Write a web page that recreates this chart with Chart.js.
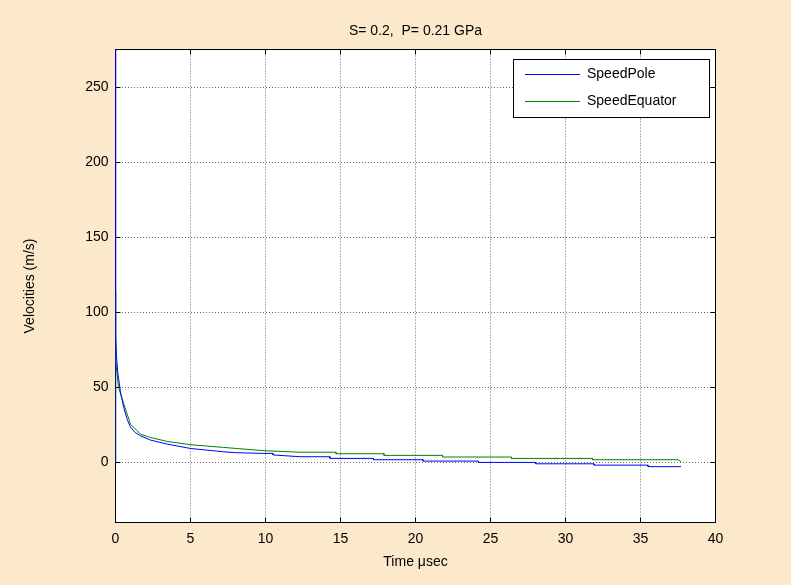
<!DOCTYPE html>
<html>
<head>
<meta charset="utf-8">
<script src="https://cdn.jsdelivr.net/npm/chart.js@4.4.1/dist/chart.umd.min.js"></script>
<style>
  html, body { margin: 0; padding: 0; background: #fce9cb; }
  canvas { display: block; }
</style>
</head>
<body>
<canvas id="grafico" width="791" height="585"></canvas>
<script>
// valores
const chartTitle = "S= 0.2,  P= 0.21 GPa";
const xTicks = [0, 5, 10, 15, 20, 25, 30, 35, 40];
const yTicks = [0, 50, 100, 150, 200, 250];

const poleTime = [0, 0, 0.02, 0.07, 0.15, 0.22, 0.33, 0.55, 0.8, 1.0, 1.3, 1.67, 2.33, 3.44, 5, 6, 7.2, 8, 9.9, 10.5, 10.5, 12.3, 14.3, 14.3, 17.2, 17.2, 20.5, 20.5, 24.2, 24.2, 28, 28, 31.9, 31.9, 35.5, 35.5, 37.7];
const poleSpeed = [0, 275, 84, 70, 60, 55, 47, 36.5, 28, 23.5, 20, 17.7, 14.9, 12.2, 9.3, 8.3, 7.1, 6.5, 6.0, 6.0, 5.0, 3.8, 3.8, 2.7, 2.7, 1.8, 1.8, 0.9, 0.9, 0, 0, -0.9, -0.9, -1.8, -1.8, -2.8, -2.8];

const equatorTime = [0, 0, 0.02, 0.2, 0.55, 1.0, 1.67, 2.33, 3.44, 5, 7.2, 9.9, 12.3, 14.7, 14.7, 17.9, 17.9, 21.8, 21.8, 26.4, 26.4, 31.8, 31.8, 37.5, 37.7];
const equatorSpeed = [0, 114, 68, 50, 39, 25.5, 18.8, 16.6, 14, 11.8, 10, 7.8, 6.8, 6.8, 5.8, 5.8, 4.7, 4.7, 3.6, 3.6, 2.7, 2.7, 1.8, 1.8, 0.5];

const fonte = "Liberation Sans, Arial, sans-serif";

function pontos(xs, ys) {
    return xs.map((x, i) => ({ x: x, y: ys[i] }));
}

const fundoPlugin = {
    id: "fundoPlugin",
    beforeDraw(chart) {
        const { ctx, chartArea: a } = chart;
        ctx.save();
        ctx.fillStyle = "#fff";
        ctx.fillRect(a.left, a.top, a.right - a.left, a.bottom - a.top);
        ctx.restore();
    },
    beforeDatasetsDraw(chart) {
        const { ctx, chartArea: a, scales } = chart;
        ctx.save();
        // caixa e marcas internas
        ctx.strokeStyle = "#000";
        ctx.lineWidth = 1;
        ctx.strokeRect(a.left, a.top, a.right - a.left, a.bottom - a.top);
        ctx.beginPath();
        xTicks.forEach(t => {
            const px = scales.x.getPixelForValue(t);
            ctx.moveTo(px, a.bottom); ctx.lineTo(px, a.bottom - 5);
            ctx.moveTo(px, a.top); ctx.lineTo(px, a.top + 5);
        });
        yTicks.forEach(t => {
            const py = Math.round(scales.y.getPixelForValue(t)) + 0.5;
            ctx.moveTo(a.left, py); ctx.lineTo(a.left + 5, py);
            ctx.moveTo(a.right, py); ctx.lineTo(a.right - 5, py);
        });
        ctx.stroke();
        ctx.restore();
    }
};

const legendaPlugin = {
    id: "legendaPlugin",
    afterDraw(chart) {
        const { ctx, chartArea: a } = chart;
        ctx.save();

        // título
        ctx.fillStyle = "#000";
        ctx.font = "14px " + fonte;
        ctx.textAlign = "center";
        ctx.textBaseline = "middle";
        ctx.fillText(chartTitle, (a.left + a.right) / 2, 31);

        // legenda
        const lx = 513, ly = 59, lw = 196, lh = 58;
        ctx.fillStyle = "#fff";
        ctx.fillRect(lx, ly, lw, lh);
        ctx.strokeStyle = "#000";
        ctx.lineWidth = 1;
        ctx.strokeRect(lx + 0.5, ly + 0.5, lw, lh);
        ctx.textAlign = "left";
        chart.data.datasets.forEach((ds, i) => {
            const y = ly + 15 + i * 27;
            ctx.strokeStyle = ds.borderColor;
            ctx.beginPath();
            ctx.moveTo(525, Math.round(y) + 0.5);
            ctx.lineTo(580, Math.round(y) + 0.5);
            ctx.stroke();
            ctx.fillStyle = "#000";
            ctx.fillText(ds.label, 587, y);
        });
        ctx.restore();
    }
};

new Chart(document.getElementById("grafico"), {
    type: "line",
    data: {
        datasets: [
            {
                label: "SpeedPole",
                data: pontos(poleTime, poleSpeed),
                borderColor: "#0000ff",
                borderWidth: 1,
                pointRadius: 0,
                tension: 0
            },
            {
                label: "SpeedEquator",
                data: pontos(equatorTime, equatorSpeed),
                borderColor: "#008000",
                borderWidth: 1,
                pointRadius: 0,
                tension: 0
            }
        ]
    },
    options: {
        responsive: false,
        animation: false,
        layout: { padding: { top: 49.5, right: 75.5, left: 0, bottom: 0 } },
        plugins: {
            legend: { display: false },
            tooltip: { enabled: false },
            title: { display: false }
        },
        scales: {
            x: {
                type: "linear",
                min: 0,
                max: 40,
                afterBuildTicks(scale) { scale.ticks = xTicks.map(v => ({ value: v })); },
                afterFit(scale) { scale.height = 62.5; },
                border: { display: false, dash: [1, 2] },
                grid: { color: "#666", drawTicks: false },
                ticks: { color: "#000", padding: 8, maxRotation: 0, font: { family: fonte, size: 14 } },
                title: {
                    display: true,
                    text: "Time \u03bcsec",
                    color: "#000",
                    font: { family: fonte, size: 14 },
                    padding: { top: 0, bottom: 14 }
                }
            },
            y: {
                type: "linear",
                min: -40,
                max: 275,
                afterBuildTicks(scale) { scale.ticks = yTicks.map(v => ({ value: v })); },
                afterFit(scale) { scale.width = 115.5; },
                border: { display: false, dash: [1, 2] },
                grid: { color: "#666", drawTicks: false },
                ticks: { color: "#000", padding: 7, font: { family: fonte, size: 14 } },
                title: {
                    display: true,
                    text: "Velocities (m/s)",
                    color: "#000",
                    font: { family: fonte, size: 14 },
                    padding: { top: 22, bottom: 0 }
                }
            }
        }
    },
    plugins: [fundoPlugin, legendaPlugin]
});
</script>
</body>
</html>
